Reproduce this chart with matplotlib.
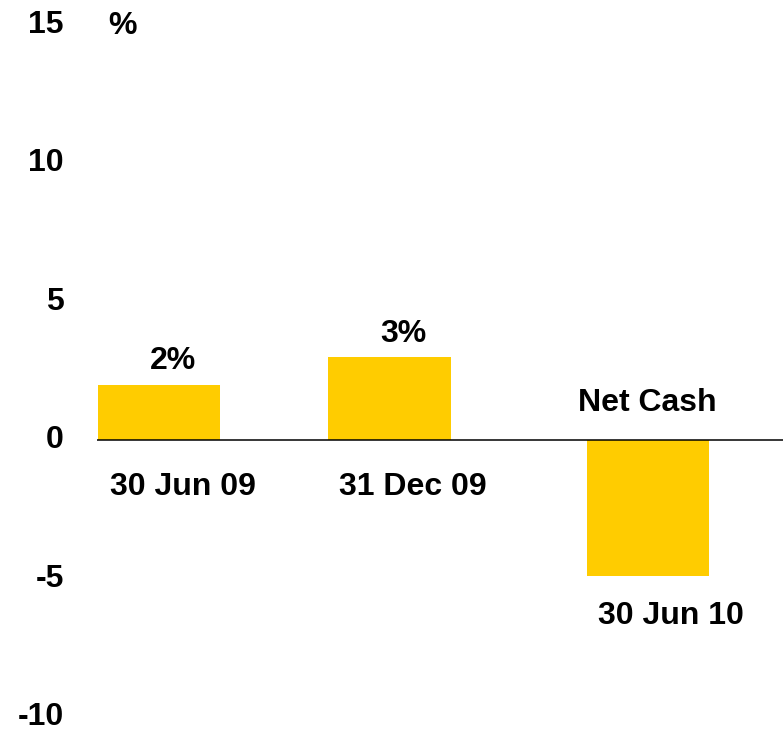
import matplotlib
matplotlib.use("Agg")
import matplotlib.pyplot as plt

# data
categories = ["30 Jun 09", "31 Dec 09", "30 Jun 10"]
values = [2.0, 3.0, -4.9]
value_labels = ["2%", "3%", None]
yticks = [-10, -5, 0, 5, 10, 15]

# layout: slot for each bar (the last one sits a bit further out)
slots = [0, 1, 2.12]
bar_color = "#FFCC00"
fs = 23

plt.rcParams['font.family'] = ['Liberation Sans', 'DejaVu Sans']
plt.rcParams['font.weight'] = 'bold'

fig = plt.figure(figsize=(7.83, 7.32), dpi=100)
ax = fig.add_axes([97 / 783, 15 / 732, 686 / 783, 692 / 732])

ax.bar(slots, values, width=0.53, color=bar_color, zorder=2)
ax.axhline(0, color="black", lw=1.1, zorder=3)

ax.set_xlim(-0.269, 2.707)
ax.set_ylim(-10, 15)
ax.set_xticks([])
ax.set_yticks(yticks)
ax.set_yticklabels([str(t) for t in yticks], fontsize=fs, fontweight="bold",
                   va="center")
ax.tick_params(axis="y", length=0, pad=24)
for s in ax.spines.values():
    s.set_visible(False)

for x, v, cat, lab in zip(slots, values, categories, value_labels):
    if v >= 0:
        ax.annotate(lab, (x, v), xytext=(10, 17), textcoords="offset points",
                    ha="center", va="center", fontsize=fs, fontweight="bold")
        ax.annotate(cat, (x, 0), xytext=(17, -34), textcoords="offset points",
                    ha="center", va="center", fontsize=fs, fontweight="bold")
    else:
        ax.annotate("Net Cash", (x, 0), xytext=(0, 27), textcoords="offset points",
                    ha="center", va="center", fontsize=fs, fontweight="bold")
        ax.annotate(cat, (x, v), xytext=(17, -29), textcoords="offset points",
                    ha="center", va="center", fontsize=fs, fontweight="bold")

ax.annotate("%", (0.037, 15), xycoords=ax.get_yaxis_transform(),
            xytext=(0, -1), textcoords="offset points", ha="center",
            va="center", fontsize=fs, fontweight="bold")

fig.savefig("out.png", dpi=100)
